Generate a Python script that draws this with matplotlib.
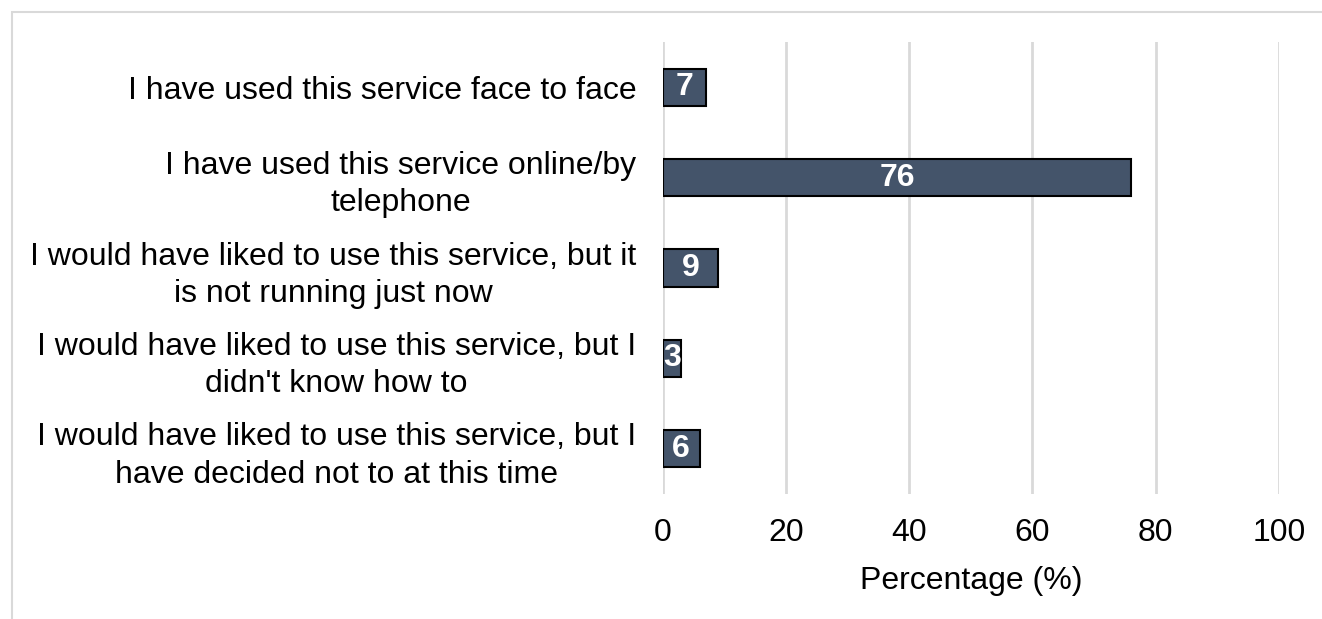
import matplotlib
matplotlib.use("Agg")
import matplotlib.pyplot as plt
from matplotlib.patches import Rectangle

categories = [
    "I have used this service face to face",
    "I have used this service online/by\ntelephone",
    "I would have liked to use this service, but it\nis not running just now",
    "I would have liked to use this service, but I\ndidn't know how to",
    "I would have liked to use this service, but I\nhave decided not to at this time",
]
values = [7, 76, 9, 3, 6]
xticks = [0, 20, 40, 60, 80, 100]

plt.rcParams["font.family"] = ["Liberation Sans", "DejaVu Sans"]
FS = 23

W, H = 1322, 619
fig = plt.figure(figsize=(W / 100, H / 100), dpi=100)
ax = fig.add_axes([662.7 / W, 1 - 494 / H, (1279 - 662.7) / W, (494 - 42) / H])

# light frame around the chart area
fig.patches.append(Rectangle((12 / W, -0.1), 1.2, 1 - 12 / H + 0.1,
                             transform=fig.transFigure, fill=False,
                             edgecolor="#d9d9d9", linewidth=1.5))

y = list(range(len(categories)))
bars = ax.barh(y, values, height=0.41, color="#44546A",
               edgecolor="black", linewidth=1.5, zorder=3)
for b, v in zip(bars, values):
    ax.text(b.get_x() + b.get_width() / 2, b.get_y() + b.get_height() / 2,
            f"{v}", ha="center", va="center", color="white",
            fontsize=FS, fontweight="bold", zorder=4)

ax.set_xlim(0, 100)
ax.set_ylim(len(categories) - 0.5, -0.5)
ax.set_xticks(xticks)
ax.set_xticklabels([str(t) for t in xticks], fontsize=FS)
ax.set_yticks(y)
ax.set_yticklabels(categories, fontsize=FS, ha="right",
                   multialignment="center", linespacing=1.32)
ax.tick_params(axis="both", length=0)
ax.tick_params(axis="x", pad=17)
ax.tick_params(axis="y", pad=19)
ax.grid(axis="x", color="#d9d9d9", linewidth=2, zorder=0)
for s in ax.spines.values():
    s.set_visible(False)
ax.set_xlabel("Percentage (%)", fontsize=FS, labelpad=13)

fig.savefig("out.png", dpi=100)
